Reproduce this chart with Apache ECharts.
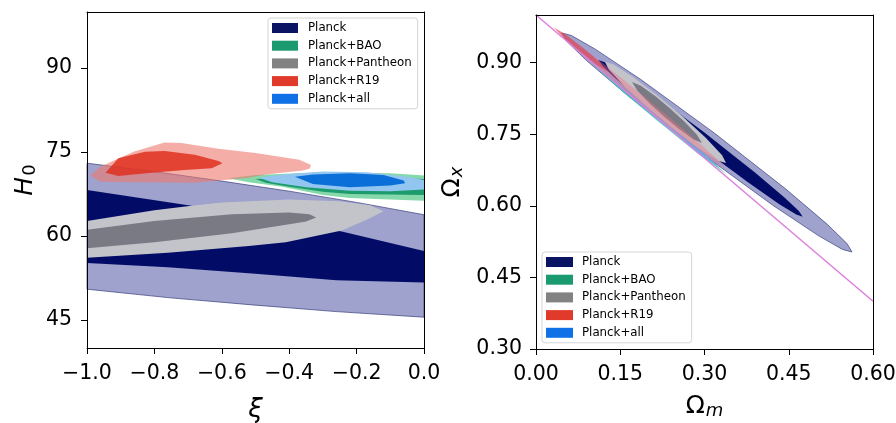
<!DOCTYPE html>
<html><head><meta charset="utf-8">
<script src="https://cdn.jsdelivr.net/npm/echarts@6/dist/echarts.min.js"></script>
<style>html,body{margin:0;padding:0;background:#fff}#c{width:896px;height:423px}</style>
</head><body><div id="c"></div>
<script>
// ---------- tick labels ----------
const leftXTicks = [-1.0, -0.8, -0.6, -0.4, -0.2, 0.0];
const leftYTicks = [45, 60, 75, 90];
const rightXTicks = [0.00, 0.15, 0.30, 0.45, 0.60];
const rightYTicks = [0.30, 0.45, 0.60, 0.75, 0.90];
const seriesNames = ['Planck', 'Planck+BAO', 'Planck+Pantheon', 'Planck+R19', 'Planck+all'];

// ---------- left panel (xi, H0) contours: [xi, H0] ----------
const planckOuterL = [[-1,73.0],[-0.8,71.5],[-0.6,69.8],[-0.4,68.0],[-0.2,66.0],[0,63.8],[0,45.5],[-0.26,46.5],[-0.51,47.7],[-0.76,49.0],[-1,50.5]];
const planckInnerL = [[-1,68.2],[-0.69,65.4],[-0.45,63.0],[-0.244,60.8],[0,57.3],[0,51.7],[-0.26,52.1],[-0.51,53.3],[-0.76,54.4],[-1,55.2]];
const pantheonOuterL = [[-1,62.7],[-0.8,64.6],[-0.69,65.4],[-0.6,66.0],[-0.4,66.5],[-0.25,66.2],[-0.16,65.5],[-0.12,64.4],[-0.17,62.9],[-0.244,61.0],[-0.41,58.9],[-0.52,58.2],[-0.76,57.0],[-1,56.1]];
const pantheonInnerL = [[-1,61.1],[-0.8,62.7],[-0.57,63.9],[-0.4,64.2],[-0.34,63.9],[-0.32,63.3],[-0.35,62.6],[-0.4,62.1],[-0.57,60.5],[-0.8,58.9],[-1,57.8]];
const baoOuterL = [[-0.58,70.3],[-0.5,70.9],[-0.3,71.4],[-0.1,71.2],[0,70.8],[0,66.3],[-0.1,66.5],[-0.22,66.8],[-0.3,67.3],[-0.42,68.8],[-0.52,69.6]];
const baoInnerL = [[-0.5,70.2],[-0.3,70.8],[0,70.2],[0,67.3],[-0.1,67.4],[-0.22,67.5],[-0.3,67.9],[-0.4,68.8],[-0.47,69.5]];
const allOuterL = [[-0.49,70.4],[-0.42,71.0],[-0.3,71.5],[-0.17,71.4],[-0.05,70.6],[0,70.0],[0,68.3],[-0.1,68.0],[-0.22,68.1],[-0.35,68.7],[-0.45,69.6]];
const allInnerL = [[-0.383,70.6],[-0.33,71.0],[-0.22,71.2],[-0.12,70.9],[-0.06,69.9],[-0.056,69.4],[-0.1,69.0],[-0.22,68.7],[-0.33,69.3]];
const r19OuterL = [[-0.99,70.8],[-0.96,72.4],[-0.86,75.1],[-0.77,76.7],[-0.72,76.6],[-0.61,75.6],[-0.50,74.8],[-0.37,73.6],[-0.335,72.7],[-0.34,72.0],[-0.36,71.7],[-0.47,71.0],[-0.52,70.4],[-0.68,69.5],[-0.85,69.6],[-0.96,69.7]];
const r19InnerL = [[-0.945,71.3],[-0.907,73.9],[-0.828,75.05],[-0.769,75.2],[-0.68,74.5],[-0.61,73.4],[-0.598,73.0],[-0.63,72.1],[-0.71,71.8],[-0.808,71.3],[-0.907,70.7]];

// ---------- right panel (Omega_m, Omega_x) contours ----------
const planckOuterR = [[0.0463,0.9623],[0.0631,0.9570],[0.1055,0.9284],[0.1865,0.8649],[0.3173,0.7528],[0.4447,0.6353],[0.5187,0.5612],[0.5537,0.5210],[0.5626,0.5033],[0.5457,0.5086],[0.5033,0.5372],[0.4223,0.6007],[0.2915,0.7128],[0.1641,0.8303],[0.0901,0.9044],[0.0551,0.9446]];
const planckInnerR = [[0.1109,0.9057],[0.1224,0.9012],[0.1519,0.8799],[0.2084,0.8337],[0.3004,0.7532],[0.3904,0.6695],[0.4429,0.6171],[0.4680,0.5892],[0.4748,0.5773],[0.4634,0.5818],[0.4339,0.6031],[0.3774,0.6493],[0.2854,0.7298],[0.1954,0.8135],[0.1429,0.8659],[0.1178,0.8938]];
const pantheonOuterR = [[0.1228,0.9015],[0.1373,0.8967],[0.1728,0.8699],[0.2174,0.8300],[0.2606,0.7876],[0.3022,0.7429],[0.3313,0.7063],[0.3383,0.6899],[0.3239,0.6947],[0.2884,0.7215],[0.2438,0.7614],[0.2006,0.8038],[0.1590,0.8485],[0.1299,0.8851]];
const pantheonInnerR = [[0.1709,0.8596],[0.1866,0.8518],[0.2133,0.8290],[0.2386,0.8041],[0.2631,0.7778],[0.2862,0.7496],[0.2955,0.7318],[0.2798,0.7396],[0.2531,0.7624],[0.2278,0.7873],[0.2033,0.8136],[0.1802,0.8418]];
const r19OuterR = [[0.0303,0.9749],[0.0475,0.9631],[0.0949,0.9213],[0.1570,0.8634],[0.2182,0.8042],[0.2787,0.7439],[0.3231,0.6971],[0.3365,0.6794],[0.3193,0.6913],[0.2719,0.7331],[0.2098,0.7910],[0.1486,0.8502],[0.0881,0.9105],[0.0437,0.9573]];
const r19InnerR = [[0.0338,0.9720],[0.0552,0.9570],[0.0846,0.9302],[0.1130,0.9018],[0.1300,0.8800],[0.1086,0.8950],[0.0792,0.9218],[0.0508,0.9502]];
const baoOuterR = [[0.0961,0.9015],[0.1471,0.8577],[0.2208,0.7875],[0.2935,0.7157],[0.3400,0.6650],[0.2891,0.7089],[0.2154,0.7791],[0.1427,0.8509]];
const allOuterR = [[0.1100,0.8890],[0.1558,0.8490],[0.2222,0.7858],[0.2878,0.7212],[0.3300,0.6760],[0.2842,0.7160],[0.2178,0.7792],[0.1522,0.8438]];
const flatLine = [[0.0, 1.0], [0.6, 0.4]];

// ---------- styles ----------
const FONT = 'DejaVu Sans';
const legendColors = ['#0b1363', '#1a9a6e', '#828282', '#e03a2a', '#1070e6'];
const C = {
  planckOuter: '#9ea2cd', planckInner: '#020b66', planckEdge: '#3a3e7c',
  panOuter: '#c3c4ca', panInner: '#797a83',
  baoOuter: '#84d8aa', baoInner: '#1c9b6c',
  allOuter: '#92c6f0', allInner: '#0b6fd9',
  r19Outer: 'rgba(238,120,108,0.6)', r19Inner: 'rgba(222,48,30,0.85)'
};

function polySeries(name, polys, axisIdx, z) {
  return {
    type: 'custom', name: name, xAxisIndex: axisIdx, yAxisIndex: axisIdx, z: z,
    itemStyle: { color: legendColors[seriesNames.indexOf(name)] },
    data: polys.map(p => p.pts[0]),
    silent: true,
    renderItem: function (params, api) {
      const p = polys[params.dataIndex];
      return {
        type: 'polygon',
        shape: { points: p.pts.map(d => api.coord(d)) },
        style: { fill: p.fill, stroke: p.stroke || null, lineWidth: p.lw || 0 }
      };
    }
  };
}

function fmtL(v) { return (v < 0 ? '\u2212' : '') + Math.abs(v).toFixed(1); }
function fmtR(v) { return v.toFixed(2); }
const TICK_FS = 20.5;

function mkX(grid, min, max, ticks, fmt, name, gap, rich) {
  return [{
    gridIndex: grid, type: 'value', min: min, max: max, position: 'bottom', z: 10,
    axisLine: { show: true, onZero: false, lineStyle: { color: '#000', width: 1 } },
    axisTick: { show: true, customValues: ticks, length: 6, lineStyle: { color: '#000', width: 1 } },
    axisLabel: { customValues: ticks, formatter: fmt, fontSize: TICK_FS, color: '#000', fontFamily: FONT, margin: 15 },
    splitLine: { show: false },
    name: name, nameLocation: 'middle', nameGap: gap, nameTextStyle: { rich: rich }
  }, {
    gridIndex: grid, type: 'value', min: min, max: max, position: 'top', z: 10,
    axisLine: { show: true, onZero: false, lineStyle: { color: '#000', width: 1 } },
    axisTick: { show: false }, axisLabel: { show: false }, splitLine: { show: false }
  }];
}
function mkY(grid, min, max, ticks, fmt, name, gap, rich, margin) {
  return [{
    gridIndex: grid, type: 'value', min: min, max: max, position: 'left', z: 10,
    axisLine: { show: true, onZero: false, lineStyle: { color: '#000', width: 1 } },
    axisTick: { show: true, customValues: ticks, length: 6, lineStyle: { color: '#000', width: 1 } },
    axisLabel: { customValues: ticks, formatter: fmt, fontSize: TICK_FS, color: '#000', fontFamily: FONT, margin: margin },
    splitLine: { show: false },
    name: name, nameLocation: 'middle', nameGap: gap, nameRotate: 90, nameTextStyle: { rich: rich }
  }, {
    gridIndex: grid, type: 'value', min: min, max: max, position: 'right', z: 10,
    axisLine: { show: true, onZero: false, lineStyle: { color: '#000', width: 1 } },
    axisTick: { show: false }, axisLabel: { show: false }, splitLine: { show: false }
  }];
}

const mainTok = { fontFamily: FONT, fontSize: 25, lineHeight: 26, verticalAlign: 'top', color: '#000' };
const subTok = { fontFamily: FONT, fontSize: 18, fontStyle: 'italic', lineHeight: 18, padding: [12, 0, 0, 1], verticalAlign: 'bottom', color: '#000' };

const xAxes = [].concat(
  mkX(0, -1, 0, leftXTicks, fmtL, '{i|ξ}', 49, { i: { fontFamily: FONT, fontStyle: 'italic', fontSize: 26, color: '#000' } }),
  mkX(1, 0, 0.6, rightXTicks, fmtR, '{o|Ω}{s|m}', 38, { o: mainTok, s: subTok })
);
const yAxes = [].concat(
  mkY(0, 40, 100, leftYTicks, v => String(v), '{h|H}{s|0}', 48, { h: Object.assign({}, mainTok, { fontStyle: 'italic' }), s: Object.assign({}, subTok, { fontStyle: 'normal' }) }, 15),
  mkY(1, 0.3, 1.0, rightYTicks, fmtR, '{o|Ω}{s|x}', 70, { o: mainTok, s: subTok }, 14)
);

function legendCfg(left, top, textPad) {
  return {
    data: seriesNames.map((n, i) => ({ name: n, itemStyle: { color: legendColors[i], borderWidth: 0 } })),
    orient: 'vertical', left: left, top: top, icon: 'rect',
    itemWidth: 26, itemHeight: 10, itemGap: 5.7, padding: [4, 6, 4, 4],
    backgroundColor: 'rgba(255,255,255,0.85)', borderColor: '#d5d5d5', borderWidth: 1, borderRadius: 3,
    selectedMode: false,
    textStyle: { fontFamily: FONT, fontSize: 11.8, color: '#000', lineHeight: 12, padding: [0, 0, 0, textPad] }
  };
}

const series = [
  polySeries('Planck', [{ pts: planckOuterL, fill: C.planckOuter, stroke: C.planckEdge, lw: 0.7 }, { pts: planckInnerL, fill: C.planckInner }], 0, 2),
  polySeries('Planck+Pantheon', [{ pts: pantheonOuterL, fill: C.panOuter }, { pts: pantheonInnerL, fill: C.panInner }], 0, 3),
  polySeries('Planck+BAO', [{ pts: baoOuterL, fill: C.baoOuter }, { pts: baoInnerL, fill: C.baoInner }], 0, 4),
  polySeries('Planck+all', [{ pts: allOuterL, fill: C.allOuter }, { pts: allInnerL, fill: C.allInner }], 0, 5),
  polySeries('Planck+R19', [{ pts: r19OuterL, fill: C.r19Outer }, { pts: r19InnerL, fill: C.r19Inner }], 0, 6),

  polySeries('Planck', [{ pts: planckOuterR, fill: C.planckOuter, stroke: C.planckEdge, lw: 0.7 }, { pts: planckInnerR, fill: C.planckInner }], 2, 2),
  polySeries('Planck+BAO', [{ pts: baoOuterR, fill: 'rgba(70,200,175,0.85)' }], 2, 3),
  polySeries('Planck+all', [{ pts: allOuterR, fill: 'rgba(110,165,240,0.85)' }], 2, 4),
  polySeries('Planck+Pantheon', [{ pts: pantheonOuterR, fill: C.panOuter }, { pts: pantheonInnerR, fill: C.panInner }], 2, 5),
  polySeries('Planck+R19', [{ pts: r19OuterR, fill: 'rgba(240,110,130,0.42)' }, { pts: r19InnerR, fill: 'rgba(222,48,60,0.5)' }], 2, 6),
  {
    type: 'line', name: 'flat', xAxisIndex: 2, yAxisIndex: 2, z: 7, data: flatLine,
    showSymbol: false, symbol: 'none', silent: true,
    lineStyle: { color: '#dc80dc', width: 1.5 }
  }
];

const chart = echarts.init(document.getElementById('c'), null, { renderer: 'canvas' });
chart.setOption({
  animation: false,
  backgroundColor: '#fff',
  grid: [
    { left: 87, right: 472, top: 12, bottom: 75, containLabel: false, outerBoundsMode: 'none' },
    { left: 536, right: 23, top: 15, bottom: 74, containLabel: false, outerBoundsMode: 'none' }
  ],
  legend: [legendCfg(268, 18, 5), Object.assign(legendCfg(542, 252, 4), { itemWidth: 27 })],
  xAxis: xAxes,
  yAxis: yAxes,
  series: series
});
</script>
</body></html>
